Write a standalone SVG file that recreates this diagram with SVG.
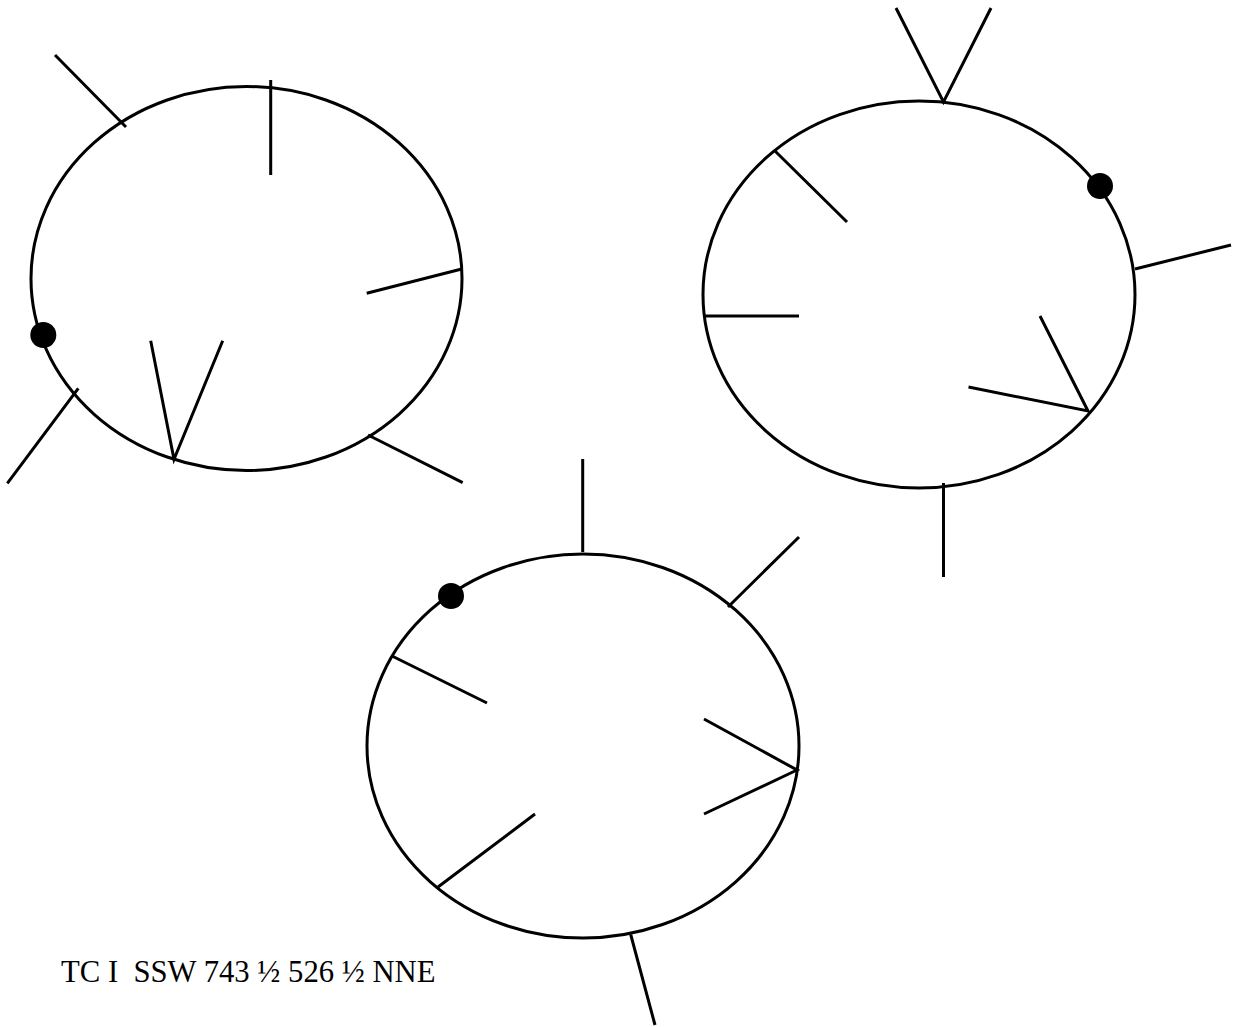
<svg xmlns="http://www.w3.org/2000/svg" width="1233" height="1027" viewBox="0 0 1233 1027">
<style>
.e{fill:none;stroke:#000;stroke-width:3}
.l{stroke:#000;stroke-width:3;fill:none}
.d{fill:#000}
.t{font-family:"Liberation Serif","Times New Roman",serif;font-size:30.7px;fill:#000;white-space:pre}
</style>
<rect width="1233" height="1027" fill="#fff"/>
<g id="diagram1">
<ellipse class="e" cx="246.5" cy="278.5" rx="215.5" ry="192"/>
<path class="l" d="M55,55 L126,127 M270.7,80 L270.7,175 M461.7,269 L366.7,293.3 M368,435 L462.7,482.7 M150.7,340.7 L174,459.3 L222.7,340.7 M78.3,388.3 L7.3,483.3"/>
<circle class="d" cx="43.3" cy="335" r="13"/>
</g>
<g id="diagram2">
<ellipse class="e" cx="919" cy="294.5" rx="216" ry="193.5"/>
<path class="l" d="M896,8 L943.5,102 L991,8 M1135,269 L1231,245 M775,151 L847,222 M705,316 L799,316 M1040,316 L1088,411 L968.5,387 M943.5,483 L943.5,577"/>
<circle class="d" cx="1100" cy="186" r="13"/>
</g>
<g id="diagram3">
<ellipse class="e" cx="583" cy="746" rx="216" ry="192"/>
<path class="l" d="M582.7,459 L582.7,552 M728,607 L799,537 M392,656 L487,703 M704,719 L797,770 L704,814 M438,887 L535,814 M630.7,934.5 L655,1025"/>
<circle class="d" cx="451" cy="596" r="13"/>
</g>
<text class="t" x="61" y="982" xml:space="preserve">TC I  SSW 743 ½ 526 ½ NNE</text>
</svg>
